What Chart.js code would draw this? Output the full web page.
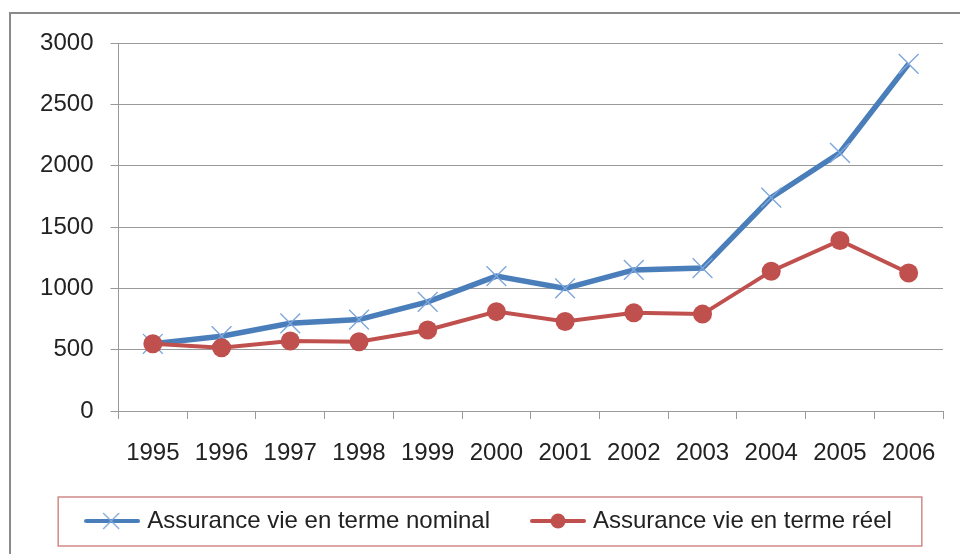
<!DOCTYPE html>
<html>
<head>
<meta charset="utf-8">
<script src="https://cdn.jsdelivr.net/npm/chart.js@4/dist/chart.umd.min.js"></script>
<style>
  html, body { margin: 0; padding: 0; background: #fff; }
  #wrap { width: 960px; height: 554px; position: relative; }
</style>
</head>
<body>
<div id="wrap"><canvas id="c" width="960" height="554"></canvas></div>
<script>
const years = ['1995','1996','1997','1998','1999','2000','2001','2002','2003','2004','2005','2006'];
const nominal = [548, 610, 715, 745, 890, 1100, 1000, 1150, 1165, 1740, 2105, 2830];
const reel = [548, 515, 570, 565, 660, 810, 730, 800, 790, 1140, 1390, 1125];
const seriesNames = ['Assurance vie en terme nominal', 'Assurance vie en terme réel'];
const yTicks = [0, 500, 1000, 1500, 2000, 2500, 3000];

const FONT = "'Liberation Sans', Arial, sans-serif";
const BLUE = '#4a7ebb', BLUE_MARK = '#7ea7dc', RED = '#c0504d';

function legendSample(kind) {
  const c = document.createElement('canvas');
  c.width = 56; c.height = 24;
  const g = c.getContext('2d');
  g.lineCap = 'round';
  if (kind === 'x') {
    g.strokeStyle = BLUE; g.lineWidth = 4;
    g.beginPath(); g.moveTo(2, 12); g.lineTo(54, 12); g.stroke();
    g.strokeStyle = BLUE_MARK; g.lineWidth = 1.3; g.lineCap = 'butt';
    g.beginPath(); g.moveTo(19, 4); g.lineTo(35, 20); g.moveTo(35, 4); g.lineTo(19, 20); g.stroke();
  } else {
    g.strokeStyle = RED; g.lineWidth = 4;
    g.beginPath(); g.moveTo(2, 12); g.lineTo(54, 12); g.stroke();
    g.fillStyle = RED;
    g.beginPath(); g.arc(28, 12, 7.5, 0, Math.PI * 2); g.fill();
  }
  return c;
}
const samples = [legendSample('x'), legendSample('o')];

const framePlugin = {
  id: 'frame',
  beforeDraw(chart) {
    const g = chart.ctx;
    g.save();
    g.fillStyle = '#fff';
    g.fillRect(0, 0, chart.width, chart.height);
    g.strokeStyle = '#8a8a8a';
    g.lineWidth = 2;
    g.beginPath();
    g.moveTo(10, chart.height + 5);
    g.lineTo(10, 13);
    g.lineTo(chart.width + 5, 13);
    g.stroke();
    g.restore();
  },
  afterDraw(chart) {
    const hb = chart.legend && chart.legend.legendHitBoxes;
    if (!hb || !hb.length) return;
    const last = hb[hb.length - 1];
    const left = hb[0].left - 31;
    const right = last.left + last.width + 30;
    const top = hb[0].top - 12;
    const bottom = hb[0].top + 24 + 13;
    const g = chart.ctx;
    g.save();
    g.strokeStyle = '#d08a88';
    g.lineWidth = 1.5;
    g.strokeRect(left, top, right - left, bottom - top);
    g.restore();
  }
};

new Chart(document.getElementById('c'), {
  type: 'line',
  data: {
    labels: years,
    datasets: [
      {
        label: seriesNames[0],
        data: nominal,
        borderColor: BLUE,
        borderWidth: 5.5,
        pointStyle: 'crossRot',
        pointRadius: 14,
        pointBorderColor: BLUE_MARK,
        pointBorderWidth: 1.4,
        pointBackgroundColor: BLUE_MARK,
        tension: 0,
        order: 1
      },
      {
        label: seriesNames[1],
        data: reel,
        borderColor: RED,
        borderWidth: 4,
        pointStyle: 'circle',
        pointRadius: 9.5,
        pointBorderColor: RED,
        pointBorderWidth: 0,
        pointBackgroundColor: RED,
        tension: 0,
        order: 0
      }
    ]
  },
  options: {
    responsive: false,
    animation: false,
    events: [],
    layout: { padding: { left: 38, right: 17, top: 43, bottom: 11 } },
    scales: {
      x: {
        offset: true,
        grid: { offset: true, drawOnChartArea: false, drawTicks: true, tickLength: 8, color: '#9a9a9a', lineWidth: 1 },
        border: { display: false },
        ticks: { color: '#222', font: { family: FONT, size: 24 }, padding: 20, maxRotation: 0, autoSkip: false },
        afterFit(scale) { scale.height = 53; }
      },
      y: {
        min: 0,
        max: 3000,
        afterBuildTicks(scale) { scale.ticks = yTicks.map(v => ({ value: v })); },
        grid: { color: '#9a9a9a', lineWidth: 1, drawTicks: true, tickLength: 8 },
        border: { display: true, color: '#9a9a9a', width: 1 },
        ticks: { color: '#222', font: { family: FONT, size: 24 }, padding: 17, callback: v => String(v) },
        afterFit(scale) { scale.width = 80.5; }
      }
    },
    plugins: {
      tooltip: { enabled: false },
      legend: {
        position: 'bottom',
        labels: {
          font: { family: FONT, size: 24 },
          color: '#222',
          usePointStyle: true,
          pointStyleWidth: 46,
          padding: 45,
          generateLabels(chart) {
            return chart.data.datasets.map((ds, i) => ({
              text: ds.label,
              pointStyle: samples[i],
              fillStyle: ds.borderColor,
              strokeStyle: ds.borderColor,
              lineWidth: 0,
              hidden: false,
              datasetIndex: i,
              fontColor: '#222'
            }));
          }
        }
      }
    }
  },
  plugins: [framePlugin]
});
</script>
</body>
</html>
